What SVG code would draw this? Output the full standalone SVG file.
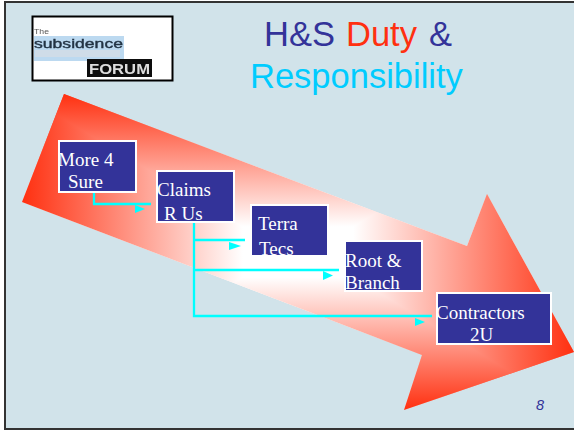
<svg xmlns="http://www.w3.org/2000/svg" width="574" height="432" viewBox="0 0 574 432">
<style>
.box{fill:#333399;stroke:#fff;stroke-width:2}
.t{font-family:"Liberation Serif",serif;font-size:19px;fill:#fff}
.h{font-family:"Liberation Sans",sans-serif;font-size:34.500px}
.c{fill:none;stroke:#00ffff;stroke-width:2.300}
.a{fill:#00ffff}
</style>
<defs>
<linearGradient id="gx" gradientUnits="userSpaceOnUse" x1="22" y1="0" x2="574" y2="0">
<stop offset="0" stop-color="#ff3010"/><stop offset=".4" stop-color="#fff"/><stop offset=".6" stop-color="#fff"/><stop offset="1" stop-color="#ff3010"/>
</linearGradient>
<linearGradient id="gy" gradientUnits="userSpaceOnUse" x1="0" y1="94" x2="0" y2="410">
<stop offset="0" stop-color="#ff3010"/><stop offset=".42" stop-color="#fff"/><stop offset=".58" stop-color="#fff"/><stop offset="1" stop-color="#ff3010"/>
</linearGradient>
<filter id="b" x="-10%" y="-30%" width="120%" height="160%"><feGaussianBlur stdDeviation="0.7"/></filter>
</defs>
<rect x="0" y="0" width="574" height="432" fill="#fff"/>
<rect x="5" y="2" width="575" height="427" fill="#d1e3ea" stroke="#333" stroke-width="2"/>
<g id="logo">
<rect x="32.500" y="16.500" width="140" height="64" fill="#fff" stroke="#000" stroke-width="2"/>
<g filter="url(#b)">
<rect x="34" y="36" width="90" height="25" fill="#bcd9f0"/>
<rect x="35" y="50" width="85" height="7" fill="#cfdce8"/>
<text x="34" y="34" font-family="Liberation Sans,sans-serif" font-size="7" fill="#555" textLength="15" lengthAdjust="spacingAndGlyphs">The</text>
<text x="34" y="48" font-family="Liberation Sans,sans-serif" font-size="13.500" fill="#223344" stroke="#223344" stroke-width=".4" textLength="89" lengthAdjust="spacingAndGlyphs">subsidence</text>
<rect x="87" y="59" width="65" height="18" fill="#111"/>
<text x="89" y="74" font-family="Liberation Sans,sans-serif" font-size="15.500" font-weight="bold" fill="#ddd" textLength="61" lengthAdjust="spacingAndGlyphs">FORUM</text>
</g>
</g>
<g id="title">
<text class="h" y="46"><tspan x="264" fill="#333399">H&amp;S</tspan><tspan x="346" fill="#ff3010">Duty</tspan><tspan x="429" fill="#333399">&amp;</tspan></text>
<text class="h" x="250" y="88" fill="#00ccff">Responsibility</text>
</g>
<g id="arrow" style="isolation:isolate">
<polygon points="64,94 22,202 422,355 404,410 574,352 487,194 467,246" fill="url(#gx)"/>
<polygon points="64,94 22,202 422,355 404,410 574,352 487,194 467,246" fill="url(#gy)" style="mix-blend-mode:darken"/>
</g>
<g id="connectors">
<path class="c" d="M94 193V204H151"/>
<path class="a" d="M135 205L145 209L135 213Z"/>
<path class="c" d="M194 221V316H432M194 240H245M194 270H339"/>
<path class="a" d="M229 242L241 246L229 250Z"/>
<path class="a" d="M323 271L333 275.500L323 280Z"/>
<path class="a" d="M415 318L425 322L415 326Z"/>
</g>
<g id="n1"><rect class="box" x="59" y="141" width="77" height="51"/><text class="t" x="58" y="166">More 4</text><text class="t" x="68" y="188">Sure</text></g>
<g id="n2"><rect class="box" x="157" y="171" width="77" height="51"/><text class="t" x="157" y="196">Claims</text><text class="t" x="164" y="220">R  Us</text></g>
<g id="n3"><rect class="box" x="251" y="205" width="77" height="51"/><text class="t" x="258" y="230">Terra</text><text class="t" x="259" y="255">Tecs</text></g>
<g id="n4"><rect class="box" x="345" y="241" width="77" height="50"/><text class="t" x="345" y="267">Root &amp;</text><text class="t" x="345" y="289">Branch</text></g>
<g id="n5"><rect class="box" x="437" y="293" width="114" height="51"/><text class="t" x="436" y="319">Contractors</text><text class="t" x="470" y="341">2U</text></g>
<text id="page" x="536" y="410" font-family="Liberation Sans,sans-serif" font-size="14.500" font-style="italic" fill="#333399">8</text>
</svg>
